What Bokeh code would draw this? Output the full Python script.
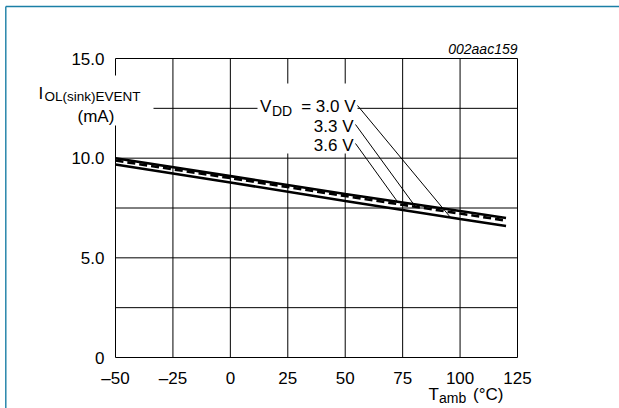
import numpy as np
from bokeh.plotting import figure
from bokeh.models import FixedTicker, Label, Range1d
from bokeh.embed import file_html
from bokeh.resources import INLINE

# ---- data ----
temp = [-50, 0, 50, 100, 120]
iol_36 = [10.0, 9.1, 8.2, 7.35, 7.0]     # VDD = 3.6 V (upper solid)
iol_33 = [9.88, 9.0, 8.1, 7.22, 6.87]    # VDD = 3.3 V (dashed)
iol_30 = [9.68, 8.78, 7.85, 6.95, 6.6]   # VDD = 3.0 V (lower solid)

x_ticks = [-50, -25, 0, 25, 50, 75, 100, 125]
x_tick_labels = ["\u201350", "\u201325", "0", "25", "50", "75", "100", "125"]
y_ticks = [0, 5, 10, 15]
y_tick_labels = ["0", "5.0", "10.0", "15.0"]
y_grid = [0, 2.5, 5, 7.5, 10, 12.5, 15]

FONT = "Liberation Sans"
BLUE = "#1b7fa6"

# page geometry (pixels) of the data area
FX0, FX1, FY0, FY1 = 115, 517, 357, 58
W, H = 619, 408

def dx(px):
    return x_ticks[0] + (px - FX0) * (x_ticks[-1] - x_ticks[0]) / (FX1 - FX0)

def dy(py):
    return y_grid[0] + (FY0 - py) * (y_grid[-1] - y_grid[0]) / (FY0 - FY1)

p = figure(width=W, height=H, x_range=Range1d(dx(0), dx(W)), y_range=Range1d(dy(H), dy(0)),
           output_backend="svg", toolbar_location=None, min_border=0)
p.title.visible = False
p.outline_line_color = None
p.background_fill_color = "white"
p.border_fill_color = "white"
p.grid.visible = False

p.xaxis.fixed_location = y_grid[0]
p.yaxis.fixed_location = x_ticks[0]
for ax in (p.xaxis[0], p.yaxis[0]):
    ax.axis_line_color = None
    ax.major_tick_line_color = None
    ax.minor_tick_line_color = None
    ax.major_label_text_font = FONT
    ax.major_label_text_font_size = "17px"
    ax.major_label_text_color = "black"
    ax.major_label_standoff = 5
p.xaxis.ticker = FixedTicker(ticks=x_ticks)
p.xaxis.major_label_overrides = dict(zip(x_ticks, x_tick_labels))
p.yaxis.ticker = FixedTicker(ticks=y_ticks)
p.yaxis.major_label_overrides = dict(zip(y_ticks, y_tick_labels))

# page frame (blue): left and top edges
p.segment(x0=[dx(5.3), dx(5.3)], x1=[dx(5.3), dx(W)],
          y0=[dy(6), dy(6)], y1=[dy(H), dy(6)],
          line_color=BLUE, line_width=1.4, line_cap="butt")

# grid lines (incl. frame) at the tick positions
p.segment(x0=x_ticks, x1=x_ticks, y0=[y_grid[0]] * len(x_ticks), y1=[y_grid[-1]] * len(x_ticks),
          line_color="black", line_width=1)
p.segment(x0=[x_ticks[0]] * len(y_grid), x1=[x_ticks[-1]] * len(y_grid), y0=y_grid, y1=y_grid,
          line_color="black", line_width=1)

# white boxes behind the texts
p.quad(left=[dx(100), dx(257)], right=[dx(153), dx(357)],
       bottom=[dy(125), dy(153)], top=[dy(75), dy(83)],
       fill_color="white", line_color=None)

# data lines
p.line(temp, iol_30, line_color="black", line_width=2.6)
p.line(temp, iol_33, line_color="black", line_width=2.6, line_dash="8 4")
p.line(temp, iol_36, line_color="black", line_width=2.6)

# leader lines from labels to curves
lead_t = [dx(450), dx(415), dx(397)]
lead_y = [float(np.interp(lead_t[0], temp, iol_30)),
          float(np.interp(lead_t[1], temp, iol_33)),
          float(np.interp(lead_t[2], temp, iol_36))]
p.segment(x0=[dx(357), dx(355), dx(355)], y0=[dy(105), dy(124), dy(143)],
          x1=lead_t, y1=lead_y, line_color="black", line_width=1)

def lab(text, px, py, size, align="left", style="normal"):
    p.add_layout(Label(x=dx(px), y=dy(py), text=text, text_font=FONT,
                       text_font_size=size, text_align=align,
                       text_baseline="alphabetic", text_color="black",
                       text_font_style=style))

# y axis title
lab("I", 38, 93, "17px")
lab("OL(sink)EVENT", 44, 96, "13.5px")
lab("(mA)", 95.4, 116, "17px", align="center")

# legend texts
lab("V", 259.5, 106, "17px")
lab("DD", 271.5, 110, "14px")
lab("= 3.0 V", 355, 106, "17px", align="right")
lab("3.3 V", 353, 126, "17px", align="right")
lab("3.6 V", 353, 145, "17px", align="right")

# figure id
lab("002aac159", 517, 48, "14px", align="right", style="italic")

# x axis title
lab("T", 428, 394, "17px")
lab("amb", 438.5, 397, "14px")
lab("(\u00b0C)", 503, 394, "17px", align="right")

open("out.html", "w").write(file_html(p, INLINE))
